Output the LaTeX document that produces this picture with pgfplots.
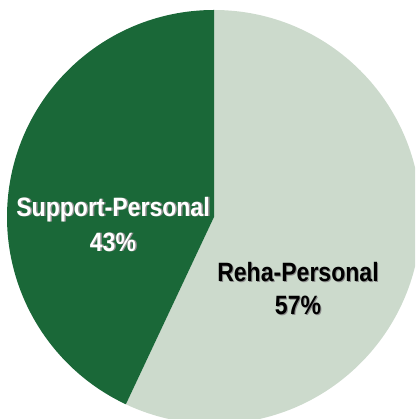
\documentclass[border=0pt]{standalone}
\usepackage{pgfplots}
\usepackage{pgfplotstable}
\pgfplotsset{compat=1.18}
\usepackage{fontspec}
\setmainfont{Liberation Sans}[FakeStretch=0.87]
\definecolor{darkg}{RGB}{26,104,56}
\definecolor{lightg}{RGB}{204,218,204}
\pgfplotstableread{
label value
Reha 57
Support 43
}\piedata
\begin{document}
\begin{tikzpicture}
\begin{axis}[
  hide axis, scale only axis,
  width=415pt, height=419pt,
  xmin=0, xmax=415, ymin=0, ymax=419,
  clip=true,
]
\pgfplotstablegetelem{0}{value}\of\piedata
\pgfmathsetmacro\va{\pgfplotsretval}
\pgfmathsetmacro\aend{90-3.6*\va}
\pgfmathsetmacro\bend{\aend+360}
\fill[lightg] (axis cs:214,202) -- (axis cs:214,409) arc[start angle=90, end angle=\aend, radius=207pt] -- cycle;
\fill[darkg] (axis cs:214,202) -- (axis cs:214,409) arc[start angle=90, end angle=\bend, radius=207pt] -- cycle;
% labels
\node[text=black!45, font=\bfseries\fontsize{26.5}{35}\selectfont, align=center] at (axis cs:114.5,194) {Support-Personal\\43\%};
\node[text=white, font=\bfseries\fontsize{26.5}{35}\selectfont, align=center] at (axis cs:113,194.5) {Support-Personal\\43\%};
\node[text=black!45, font=\bfseries\fontsize{26.5}{33}\selectfont, align=center] at (axis cs:299,129.5) {Reha-Personal\\57\%};
\node[text=black, font=\bfseries\fontsize{26.5}{33}\selectfont, align=center] at (axis cs:298,130) {Reha-Personal\\57\%};
\end{axis}
\pgfresetboundingbox
\useasboundingbox (current axis.south west) rectangle (current axis.north east);
\end{tikzpicture}
\end{document}
